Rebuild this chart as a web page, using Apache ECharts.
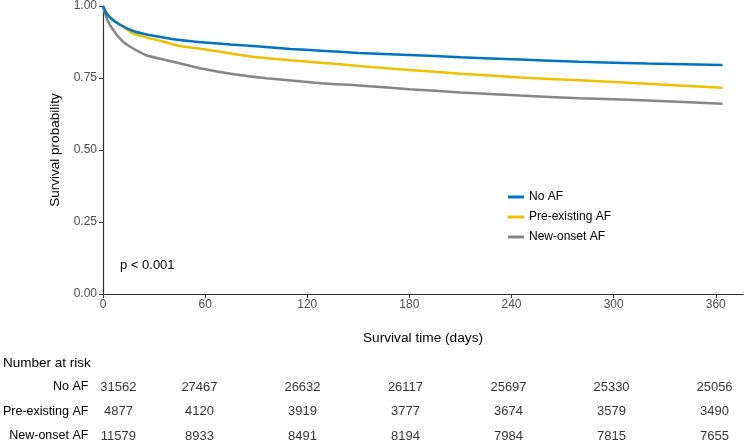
<!DOCTYPE html>
<html><head><meta charset="utf-8">
<script src="https://cdn.jsdelivr.net/npm/echarts@6/dist/echarts.min.js"></script>
<style>html,body{margin:0;padding:0;background:#fff}#c{width:750px;height:444px}</style>
</head><body><div id="c"></div>
<script>
const groups = ['No AF', 'Pre-existing AF', 'New-onset AF'];
const colors = ['#0073C2', '#EFC000', '#868686'];
const noAF = [[0,1],[2,0.975],[5,0.955],[10,0.935],[17,0.915],[25,0.902],[37,0.889],[45,0.882],[60,0.873],[75,0.866],[92,0.859],[110,0.851],[128,0.845],[150,0.837],[180,0.83],[210,0.822],[245,0.814],[280,0.806],[320,0.8],[364,0.795]];
const preAF = [[0,1],[2,0.978],[5,0.958],[10,0.935],[17,0.907],[25,0.892],[37,0.874],[45,0.861],[57,0.852],[69,0.841],[88,0.824],[110,0.812],[128,0.803],[150,0.792],[180,0.778],[210,0.765],[245,0.752],[280,0.742],[320,0.73],[364,0.716]];
const newAF = [[0,1],[2,0.96],[4,0.935],[8,0.9],[12,0.875],[17,0.855],[25,0.83],[37,0.812],[57,0.784],[76,0.764],[96,0.749],[128,0.732],[150,0.724],[180,0.711],[210,0.7],[245,0.689],[280,0.68],[320,0.672],[364,0.661]];
const riskTimes = [0, 60, 120, 180, 240, 300, 360];
const riskNoAF = [31562, 27467, 26632, 26117, 25697, 25330, 25056];
const riskPreAF = [4877, 4120, 3919, 3777, 3674, 3579, 3490];
const riskNewAF = [11579, 8933, 8491, 8194, 7984, 7815, 7655];
const yTicks = [0, 0.25, 0.5, 0.75, 1];

const curves = [noAF, preAF, newAF];
const risks = [riskNoAF, riskPreAF, riskNewAF];
const font = 'Liberation Sans, Arial, sans-serif';

const chart = echarts.init(document.getElementById('c'));
const series = curves.map((d, i) => ({
  name: groups[i], type: 'line', data: d, xAxisIndex: 0, yAxisIndex: 0,
  showSymbol: false, symbol: 'none', smooth: 0.2,
  lineStyle: { color: colors[i], width: 2.5 }, itemStyle: { color: colors[i] },
  z: 3 - i
}));
risks.forEach((r, i) => {
  series.push({
    type: 'scatter', xAxisIndex: 1, yAxisIndex: 1, symbolSize: 0, silent: true,
    data: r.map((v, j) => ({ value: [riskTimes[j], groups[i]],
      label: { offset: j === 0 ? [22, 0] : [0, 0] }, n: v })),
    label: { show: true, position: 'inside', color: '#000', fontSize: 13, fontFamily: font,
      formatter: p => String(p.data.n) }
  });
});

chart.setOption({
  animation: false,
  grid: [
    { left: 103, right: 7, top: 6, bottom: 150 },
    { left: 91.5, right: 8, top: 387, bottom: 8 }
  ],
  xAxis: [
    { type: 'value', gridIndex: 0, min: 0, max: 376, interval: 60,
      name: 'Survival time (days)', nameLocation: 'middle', nameGap: 37,
      nameTextStyle: { color: '#000', fontSize: 13.7, fontFamily: font },
      axisLine: { show: true, lineStyle: { color: '#333', width: 1.2 } },
      axisTick: { show: true, length: 4, lineStyle: { color: '#333' } },
      axisLabel: { color: '#4d4d4d', fontSize: 12, fontFamily: font, margin: 5,
        showMaxLabel: false },
      splitLine: { show: false } },
    { type: 'value', gridIndex: 1, min: 0, max: 376, show: false }
  ],
  yAxis: [
    { type: 'value', gridIndex: 0, min: 0, max: 1, interval: 0.25,
      name: 'Survival probability', nameLocation: 'middle', nameGap: 39,
      nameTextStyle: { color: '#000', fontSize: 13.5, fontFamily: font },
      axisLine: { show: true, lineStyle: { color: '#333', width: 1.2 } },
      axisTick: { show: true, length: 4, lineStyle: { color: '#333' } },
      axisLabel: { color: '#4d4d4d', fontSize: 12, fontFamily: font, margin: 6,
        formatter: v => yTicks.includes(v) ? v.toFixed(2) : '' },
      splitLine: { show: false } },
    { type: 'category', gridIndex: 1, data: groups, inverse: true, boundaryGap: false,
      axisLine: { show: false }, axisTick: { show: false }, splitLine: { show: false },
      axisLabel: { color: '#000', fontSize: 12.5, fontFamily: font, margin: 8 } }
  ],
  legend: {
    orient: 'vertical', left: 503, top: 185, itemGap: 6,
    itemWidth: 16, itemHeight: 3, icon: 'rect',
    data: groups,
    textStyle: { color: '#000', fontSize: 12, fontFamily: font, lineHeight: 14 }
  },
  graphic: [
    { type: 'text', left: 120, top: 259, style: { text: 'p < 0.001', fill: '#000', font: '13px ' + font } },
    { type: 'text', left: 3, top: 356, style: { text: 'Number at risk', fill: '#000', font: '13.5px ' + font } }
  ],
  series: series
});
</script></body></html>
